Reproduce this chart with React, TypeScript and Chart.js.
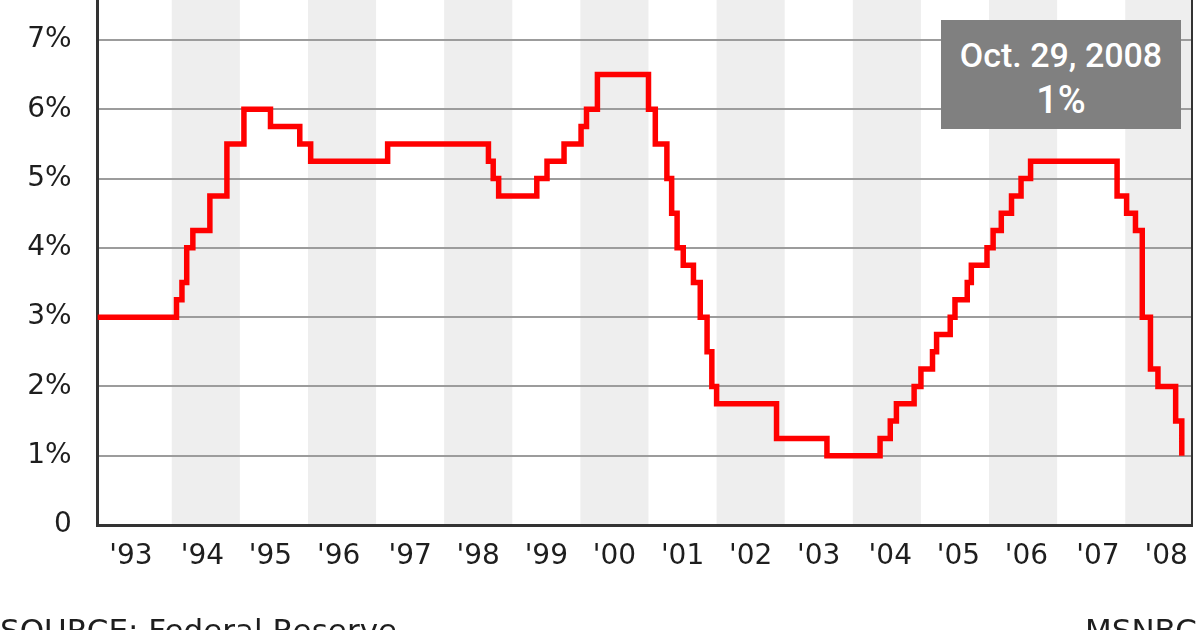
import React, { useEffect, useRef } from "react";
import { Chart, registerables } from "chart.js";

Chart.register(...registerables);

// Dates of rate changes (decimal years) and the new target rate (%)
const changeYears = [
  1992.9, 1994.07, 1994.15, 1994.22, 1994.31, 1994.56, 1994.81, 1995.06, 1995.45, 1995.88,
  1996.04, 1997.17, 1998.65, 1998.72, 1998.8, 1999.36, 1999.51, 1999.76, 2000.01, 2000.09,
  2000.25, 2001.0, 2001.1, 2001.27, 2001.34, 2001.42, 2001.51, 2001.66, 2001.76, 2001.86,
  2001.93, 2002.0, 2002.88, 2003.62, 2004.4, 2004.55, 2004.64, 2004.9, 2005.0, 2005.17,
  2005.23, 2005.43, 2005.5, 2005.68, 2005.74, 2005.97, 2006.06, 2006.18, 2006.33, 2006.47,
  2006.61, 2007.88, 2008.02, 2008.15, 2008.25, 2008.37, 2008.48, 2008.74, 2008.83,
];
const rates = [
  3.0, 3.25, 3.5, 4.0, 4.25, 4.75, 5.5, 6.0, 5.75, 5.5,
  5.25, 5.5, 5.25, 5.0, 4.75, 5.0, 5.25, 5.5, 5.75, 6.0,
  6.5, 6.0, 5.5, 5.0, 4.5, 4.0, 3.75, 3.5, 3.0, 2.5,
  2.0, 1.75, 1.25, 1.0, 1.25, 1.5, 1.75, 2.0, 2.25, 2.5,
  2.75, 3.0, 3.25, 3.5, 3.75, 4.0, 4.25, 4.5, 4.75, 5.0,
  5.25, 4.75, 4.5, 4.25, 3.0, 2.25, 2.0, 1.5, 1.0,
];

const yTickValues = [0, 1, 2, 3, 4, 5, 6, 7];
const yearTickValues = [
  1993.4, 1994.45, 1995.45, 1996.45, 1997.5, 1998.5, 1999.5, 2000.5,
  2001.5, 2002.5, 2003.5, 2004.55, 2005.55, 2006.55, 2007.6, 2008.6,
];
const yearLabels = [
  "'93", "'94", "'95", "'96", "'97", "'98", "'99", "'00",
  "'01", "'02", "'03", "'04", "'05", "'06", "'07", "'08",
];
const shadedYears = [1994, 1996, 1998, 2000, 2002, 2004, 2006, 2008];

const noteDate = "Oct. 29, 2008";
const noteRate = "1%";
const sourceText = "SOURCE: Federal Reserve";
const creditText = "MSNBC";

const X_MIN = 1992.913;
const X_MAX = 2008.98;
const Y_MAX = 7.577;

const bandsPlugin = {
  id: "yearBands",
  beforeDraw(chart: any) {
    const { ctx, chartArea, scales } = chart;
    const x = scales.x;
    ctx.save();
    ctx.fillStyle = "#eeeeee";
    shadedYears.forEach((yr) => {
      const l = Math.max(x.getPixelForValue(yr), chartArea.left);
      const r = Math.min(x.getPixelForValue(yr + 1), chartArea.right);
      if (r > l) ctx.fillRect(l, chartArea.top, r - l, chartArea.bottom - chartArea.top);
    });
    ctx.restore();
  },
  afterDraw(chart: any) {
    const { ctx, chartArea } = chart;
    ctx.save();
    ctx.strokeStyle = "#333333";
    ctx.lineWidth = 2;
    ctx.beginPath();
    ctx.moveTo(chartArea.right, chartArea.top);
    ctx.lineTo(chartArea.right, chartArea.bottom);
    ctx.stroke();
    ctx.restore();
  },
};

export default function App() {
  const canvasRef = useRef<HTMLCanvasElement | null>(null);

  useEffect(() => {
    if (!canvasRef.current) return;
    const points = changeYears.map((x, i) => ({ x, y: rates[i] }));
    const chart = new Chart(canvasRef.current, {
      type: "line",
      data: {
        datasets: [
          {
            data: points,
            borderColor: "#ff0000",
            borderWidth: 5.5,
            stepped: "before",
            pointRadius: 0,
            fill: false,
          },
        ],
      },
      options: {
        animation: false,
        responsive: false,
        devicePixelRatio: 1,
        layout: { padding: { left: 0, right: 8, top: 0, bottom: 0 } },
        plugins: { legend: { display: false }, tooltip: { enabled: false } },
        scales: {
          x: {
            type: "linear",
            min: X_MIN,
            max: X_MAX,
            afterBuildTicks: (s: any) => {
              s.ticks = yearTickValues.map((v) => ({ value: v }));
            },
            afterFit: (s: any) => {
              s.height = 105;
              s.paddingLeft = 0;
              s.paddingRight = 0;
            },
            grid: { display: false, drawTicks: false },
            border: { display: true, color: "#333333", width: 3 },
            ticks: {
              autoSkip: false,
              maxRotation: 0,
              minRotation: 0,
              padding: 15,
              color: "#1e1e1e",
              font: { family: "DejaVu Sans", size: 28 },
              callback: (_v: any, i: number) => yearLabels[i],
            },
          },
          y: {
            type: "linear",
            min: 0,
            max: Y_MAX,
            afterBuildTicks: (s: any) => {
              s.ticks = yTickValues.map((v) => ({ value: v }));
            },
            afterFit: (s: any) => {
              s.width = 97.7;
              s.paddingTop = 0;
              s.paddingBottom = 0;
            },
            grid: { color: "#9c9c9c", lineWidth: 2, drawTicks: false },
            border: { display: true, color: "#333333", width: 3 },
            ticks: {
              padding: 26,
              color: "#1e1e1e",
              font: { family: "DejaVu Sans", size: 28 },
              callback: (v: any) => (v === 0 ? "0" : `${v}%`),
            },
          },
        },
      },
      plugins: [bandsPlugin],
    });
    return () => chart.destroy();
  }, []);

  return (
    <div
      style={{
        position: "fixed",
        left: 0,
        top: 0,
        width: 1200,
        height: 630,
        overflow: "hidden",
        background: "#ffffff",
      }}
    >
      <canvas ref={canvasRef} width={1200} height={630} style={{ display: "block" }} />
      <div
        style={{
          position: "absolute",
          left: 941,
          top: 20,
          width: 240,
          height: 109,
          background: "#808080",
          color: "#ffffff",
          fontFamily: "Roboto",
          textAlign: "center",
        }}
      >
        <div
          style={{
            position: "absolute",
            left: 0,
            right: 0,
            top: 13,
            height: 44,
            lineHeight: "44px",
            fontSize: 34,
            fontWeight: 500,
          }}
        >
          {noteDate}
        </div>
        <div
          style={{
            position: "absolute",
            left: 0,
            right: 0,
            top: 58,
            height: 44,
            lineHeight: "44px",
            fontSize: 38,
            fontWeight: 500,
          }}
        >
          {noteRate}
        </div>
      </div>
      <div
        style={{
          position: "absolute",
          left: 0,
          top: 615,
          fontFamily: "DejaVu Sans",
          fontSize: 31,
          lineHeight: "31px",
          color: "#1e1e1e",
          whiteSpace: "nowrap",
        }}
      >
        {sourceText}
      </div>
      <div
        style={{
          position: "absolute",
          left: 1085,
          top: 615,
          fontFamily: "DejaVu Sans",
          fontSize: 31,
          lineHeight: "31px",
          color: "#1e1e1e",
          whiteSpace: "nowrap",
        }}
      >
        {creditText}
      </div>
    </div>
  );
}
